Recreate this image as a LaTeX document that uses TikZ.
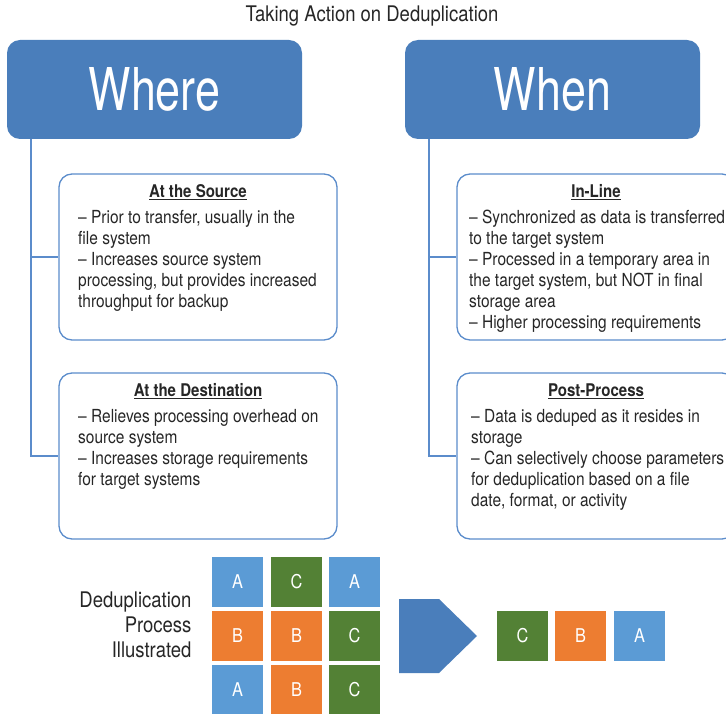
\documentclass[tikz,border=0pt]{standalone}
\usepackage{fontspec}
\setmainfont{TeX Gyre Heros}[FakeStretch=0.86]
\newfontfamily\bigfont{TeX Gyre Heros}[FakeStretch=0.76]
\usetikzlibrary{shapes,positioning}
\definecolor{headblue}{HTML}{4A7EBB}
\definecolor{lineblue}{HTML}{5B8CCB}
\definecolor{sqblue}{HTML}{5B9BD5}
\definecolor{sqorange}{HTML}{ED7D31}
\definecolor{sqgreen}{HTML}{538135}
\definecolor{txtgray}{HTML}{262626}
\tikzset{headbox/.style={fill=headblue, rounded corners=13pt, minimum width=295pt, minimum height=99pt, text=white, font=\bigfont\fontsize{59}{59}\selectfont},
  infobox/.style={draw=lineblue, line width=1.3pt, rounded corners=13pt, minimum width=278pt, minimum height=166pt},
  boxhead/.style={text=txtgray, inner sep=0pt, font=\fontsize{17.5}{21}\selectfont\bfseries},
  boxtext/.style={text=txtgray, inner sep=0pt, anchor=north west, align=left, font=\fontsize{18}{21}\selectfont},
  trunk/.style={draw=lineblue, line width=1.3pt},
  square/.style={minimum width=51pt, minimum height=50pt, inner sep=0pt, text=white, font=\fontsize{19}{19}\selectfont}}

\begin{document}
\begin{tikzpicture}[x=1pt,y=-1pt]
\useasboundingbox (0,0) rectangle (726,714);
\clip (0,0) rectangle (726,714);
\node[text=txtgray, font=\fontsize{21.5}{21.5}\selectfont] (title) at (372,16) {Taking Action on Deduplication};
% where column
\node[headbox] (where) at (154.5,89.5) {Where};
\node[infobox] (src) at (198,257) {};
\node[infobox] (dst) at (198,456) {};
\coordinate (wtrunk) at (31,139);
\draw[trunk] (wtrunk) |- (src.west);
\draw[trunk] (wtrunk) |- (dst.west);
\node[boxhead] (srchead) at (198,192) {\underline{At the Source}};
\node[boxtext] (srctext) at (78,210) {-- Prior to transfer, usually in the\\file system\\-- Increases source system\\processing, but provides increased\\throughput for backup};
\node[boxhead] (dsthead) at (198,391) {\underline{At the Destination}};
\node[boxtext] (dsttext) at (78,409) {-- Relieves processing overhead on\\source system\\-- Increases storage requirements\\for target systems};
% when column
\node[headbox] (when) at (552.5,89.5) {When};
\node[infobox] (inl) at (596,257) {};
\node[infobox] (post) at (596,456) {};
\coordinate (ntrunk) at (429,139);
\draw[trunk] (ntrunk) |- (inl.west);
\draw[trunk] (ntrunk) |- (post.west);
\node[boxhead] (inlhead) at (596,192) {\underline{In-Line}};
\node[boxtext] (inltext) at (469,210) {-- Synchronized as data is transferred\\to the target system\\-- Processed in a temporary area in\\the target system, but NOT in final\\storage area\\-- Higher processing requirements};
\node[boxhead] (posthead) at (596,391) {\underline{Post-Process}};
\node[boxtext] (posttext) at (471,409) {-- Data is deduped as it resides in\\storage\\-- Can selectively choose parameters\\for deduplication based on a file\\date, format, or activity};
% dedup illustration
\node[text=txtgray, anchor=east, align=right, font=\fontsize{21.5}{25}\selectfont] (label) at (195,625) {Deduplication\\Process\\Illustrated};
\node[square, fill=sqblue] (a1) at (237.5,582) {A};
\node[square, fill=sqgreen] (c1) at (296.5,582) {C};
\node[square, fill=sqblue] (a2) at (354.5,582) {A};
\node[square, fill=sqorange] (b1) at (237.5,636) {B};
\node[square, fill=sqorange] (b2) at (296.5,636) {B};
\node[square, fill=sqgreen] (c2) at (354.5,636) {C};
\node[square, fill=sqblue] (a3) at (237.5,690) {A};
\node[square, fill=sqorange] (b3) at (296.5,690) {B};
\node[square, fill=sqgreen] (c3) at (354.5,690) {C};
\fill[headblue] (399,599) -- (439,599) -- (477,636) -- (439,673) -- (399,673) -- cycle;
\node[square, fill=sqgreen] (cout) at (522.5,636) {C};
\node[square, fill=sqorange] (bout) at (580.5,636) {B};
\node[square, fill=sqblue] (aout) at (639.5,636) {A};
\end{tikzpicture}
\end{document}
